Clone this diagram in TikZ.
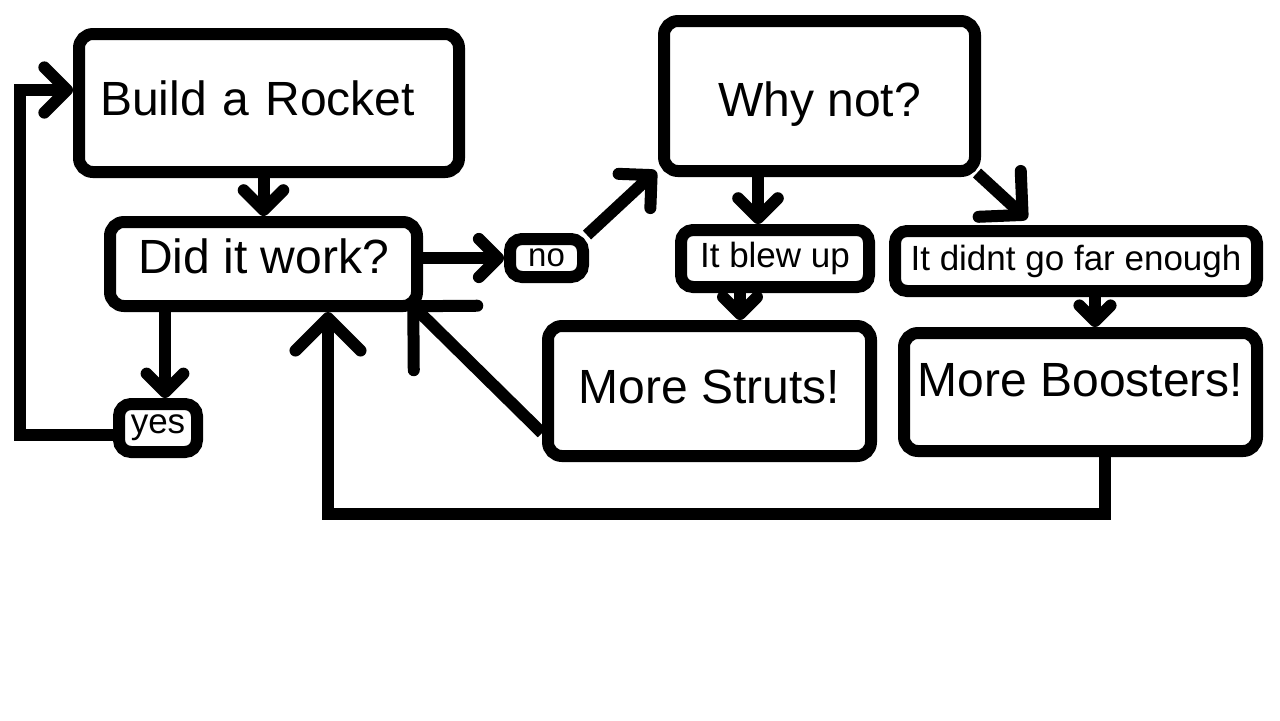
\documentclass[tikz,border=0pt]{standalone}
\usepackage{fontspec}
\setmainfont{Liberation Sans}
\usetikzlibrary{arrows.meta}
\begin{document}
\begin{tikzpicture}[
    x=0.5pt, y=-0.5pt,
    box/.style={rectangle, draw=black, line width=6pt, rounded corners=7pt, inner sep=0pt, font=\fontsize{24}{28}\selectfont},
    tag/.style={box, rounded corners=6pt, font=\fontsize{17.5}{21}\selectfont},
    link/.style={line width=6pt, -{Straight Barb[angle=90:#1, round]}},
    link/.default=13pt
  ]
    \useasboundingbox (0, 0) rectangle (1280, 720);

    \node[box, minimum width=190pt, minimum height=69pt, text width=169pt, align=left, text depth=4.5pt] (build) at (269, 103) {Build a Rocket};
    \node[box, minimum width=153.5pt, minimum height=42pt, text depth=8pt] (did) at (263.5, 264) {Did it work?};
    \node[tag, minimum width=39pt, minimum height=24pt] (yes) at (158, 428) {yes};
    \node[tag, minimum width=36.5pt, minimum height=19pt, font=\fontsize{16.5}{20}\selectfont] (no) at (546.5, 258) {no};
    \node[box, minimum width=155.5pt, minimum height=75pt, text height=20.7pt, text depth=0pt] (why) at (819.5, 96) {Why not?};
    \node[tag, minimum width=94pt, minimum height=28.5pt] (blew) at (775, 258.5) {It blew up};
    \node[tag, minimum width=181pt, minimum height=30pt] (far) at (1076, 261) {It didnt go far enough};
    \node[box, minimum width=161.5pt, minimum height=65pt, text depth=4pt] (struts) at (709.5, 391) {More Struts!};
    \node[box, minimum width=176.5pt, minimum height=59pt, text depth=12pt] (boost) at (1080.5, 392) {More Boosters!};

    \draw[link=14pt] (did.north |- build.south) -- (did.north);
    \draw[link] ([xshift=3.5pt]yes.north |- did.south) -- ([xshift=3.5pt]yes.north);
    \draw[link=16pt] ([yshift=-3.5pt]yes.west) -- ++(-93, 0) |- ([yshift=6.5pt]build.west);
    \draw[link=13.5pt] (did.east |- no.west) -- (no.west);
    \draw[link=16.5pt] ([shift={(-1pt,-1pt)}]no.north east) -- ([shift={(-1pt,3pt)}]why.south west);
    \draw[link=14pt] ([xshift=-8.5pt]blew.north |- why.south) -- ([xshift=-8.5pt]blew.north);
    \draw[link=22pt] ([shift={(-2pt,2pt)}]why.south east) -- ([shift={(-24.5pt,3pt)}]far.north);
    \draw[link=12pt] ([xshift=-17.5pt]blew.south) -- ([xshift=-17.5pt]blew.south |- struts.north);
    \draw[link=11pt] ([xshift=9.5pt]far.south) -- ([xshift=9.5pt]far.south |- boost.north);
    \draw[link=32pt] ([yshift=-21pt]struts.west) -- ([shift={(-7pt,5pt)}]did.south east);
    \draw[link=23pt] ([xshift=12.25pt]boost.south) -- ++(0, 57) -| ([xshift=32.25pt]did.south);

  \end{tikzpicture}
\end{document}
